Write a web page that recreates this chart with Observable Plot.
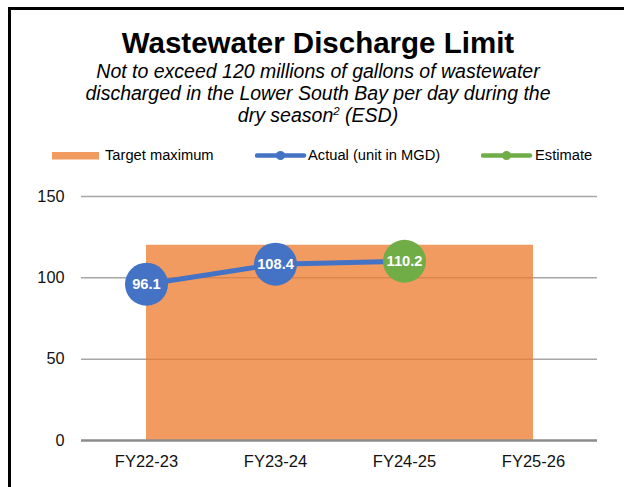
<!DOCTYPE html>
<html>
<head>
<meta charset="utf-8">
<script src="https://cdn.jsdelivr.net/npm/d3@7"></script>
<script src="https://cdn.jsdelivr.net/npm/@observablehq/plot@0.6"></script>
<style>
  html, body { margin: 0; padding: 0; background: #fff; }
  body { font-family: "Liberation Sans", Arial, sans-serif; color: #000; }
  #wrap { position: relative; width: 624px; height: 487px; overflow: hidden; background: #fff; }
  #frame { position: absolute; left: 8px; top: 7px; width: 700px; height: 600px; border: 3px solid #000; box-sizing: border-box; }
  #title { position: absolute; left: 0; top: 27px; width: 636px; text-align: center; font-weight: bold; font-size: 29.5px; line-height: 32px; }
  #subtitle { position: absolute; left: 0; top: 60.3px; width: 636px; text-align: center; font-style: italic; font-size: 19.5px; line-height: 22px; }
  #subtitle sup { font-size: 11.5px; line-height: 0; vertical-align: 7px; }
  .leg { position: absolute; top: 146px; font-size: 14.7px; line-height: 18px; white-space: nowrap; }
  .sw { position: absolute; top: 146px; }
  #chart { position: absolute; left: 0; top: 180px; }
</style>
</head>
<body>
<div id="wrap">
  <div id="frame"></div>
  <div id="title">Wastewater Discharge Limit</div>
  <div id="subtitle">Not to exceed 120 millions of gallons of wastewater<br>discharged in the Lower South Bay per day during the<br>dry season<sup>2</sup> (ESD)</div>
  <div id="legend"></div>
  <div id="chart"></div>
</div>
<script>
// ---- data ----
const years = ["FY22-23", "FY23-24", "FY24-25", "FY25-26"];
const targetMax = [120, 120, 120, 120];
const actual = [96.1, 108.4, null, null];
const estimate = [null, null, 110.2, null];
const yTicks = [0, 50, 100, 150];
const seriesNames = ["Target maximum", "Actual (unit in MGD)", "Estimate"];
const colors = ["#ED7D31", "#4472C4", "#70AD47"];

// ---- tables built from arrays ----
const targetData = years.map((y, i) => ({year: y, value: targetMax[i]}));
const actualData = years.map((y, i) => ({year: y, value: actual[i]})).filter(d => d.value != null);
const estimateData = years.map((y, i) => ({year: y, value: estimate[i]})).filter(d => d.value != null);
const lineData = years.map((y, i) => ({year: y, value: actual[i] ?? estimate[i]})).filter(d => d.value != null);

// ---- legend (HTML + small SVG swatches) ----
const legend = document.getElementById("legend");
const legItems = [
  {kind: "rect", x: 52, tx: 105},
  {kind: "line", x: 255, tx: 308},
  {kind: "line", x: 481, tx: 535}
];
legItems.forEach((it, i) => {
  const ns = "http://www.w3.org/2000/svg";
  const svg = document.createElementNS(ns, "svg");
  svg.setAttribute("width", 52); svg.setAttribute("height", 18);
  svg.setAttribute("class", "sw");
  svg.style.left = it.x + "px";
  if (it.kind === "rect") {
    const r = document.createElementNS(ns, "rect");
    r.setAttribute("x", 0); r.setAttribute("y", 6); r.setAttribute("width", 47); r.setAttribute("height", 7.5);
    r.setAttribute("fill", colors[i]); r.setAttribute("fill-opacity", 0.77);
    svg.appendChild(r);
  } else {
    const l = document.createElementNS(ns, "line");
    l.setAttribute("x1", 2); l.setAttribute("x2", 49); l.setAttribute("y1", 9.5); l.setAttribute("y2", 9.5);
    l.setAttribute("stroke", colors[i]); l.setAttribute("stroke-width", 4.5); l.setAttribute("stroke-linecap", "round");
    svg.appendChild(l);
    const c = document.createElementNS(ns, "circle");
    c.setAttribute("cx", 25.5); c.setAttribute("cy", 9.5); c.setAttribute("r", 4.5);
    c.setAttribute("fill", colors[i]);
    svg.appendChild(c);
  }
  legend.appendChild(svg);
  const t = document.createElement("div");
  t.className = "leg";
  t.style.left = it.tx + "px";
  t.textContent = seriesNames[i];
  legend.appendChild(t);
});

// ---- chart ----
const chart = Plot.plot({
  width: 624,
  height: 307,
  marginTop: 16,
  marginBottom: 47,
  marginLeft: 81,
  marginRight: 27,
  style: {fontFamily: "'Liberation Sans', Arial, sans-serif", fontSize: "16px", color: "#111", background: "transparent", overflow: "visible"},
  x: {type: "point", domain: years, padding: 0.5, label: null},
  y: {domain: [0, 150], label: null},
  marks: [
    Plot.ruleY(yTicks.filter(v => v > 0), {stroke: "#a6a6a6", strokeWidth: 1.5}),
    Plot.areaY(targetData, {x: "year", y: "value", fill: colors[0], fillOpacity: 0.77, curve: "linear"}),
    Plot.ruleY([0], {stroke: "#8c8c8c", strokeWidth: 2.5}),
    Plot.axisY({ticks: yTicks, tickSize: 0, tickPadding: 17, fontSize: 16.3, label: null}),
    Plot.axisX({tickSize: 0, tickPadding: 15, fontSize: 16.5, label: null}),
    Plot.lineY(lineData, {x: "year", y: "value", stroke: colors[1], strokeWidth: 5, curve: "linear"}),
    Plot.dot(actualData, {x: "year", y: "value", r: 21.5, fill: colors[1]}),
    Plot.dot(estimateData, {x: "year", y: "value", r: 21.5, fill: colors[2]}),
    Plot.text(actualData, {x: "year", y: "value", text: d => d.value.toFixed(1), fill: "white", fontWeight: "bold", fontSize: 14.7}),
    Plot.text(estimateData, {x: "year", y: "value", text: d => d.value.toFixed(1), fill: "white", fontWeight: "bold", fontSize: 14.7})
  ]
});
document.getElementById("chart").appendChild(chart);
</script>
</body>
</html>
